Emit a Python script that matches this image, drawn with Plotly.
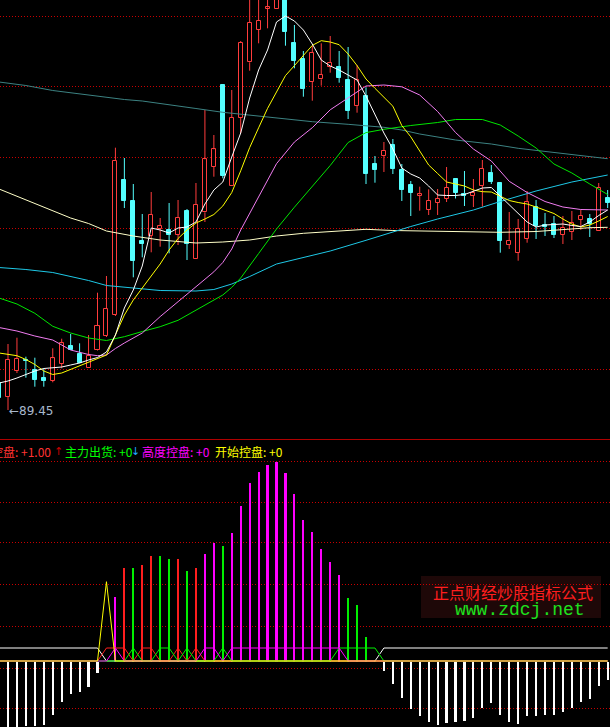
import plotly.graph_objects as go

# ---------------- data ----------------
K = list(range(-1, 68))

OPEN = [92.15, 90.78, 93.38, 94.45, 93.45, 92.62, 92.38, 94.05, 95.85, 95.05, 93.68, 95.45, 96.85,
        98.95, 112.45, 110.35, 106.38, 106.88, 107.55, 107.45, 106.95, 109.35, 104.55, 109.22, 113.78,
        121.95, 111.88, 118.68, 124.22, 127.48, 129.6, 129.52, 131.45, 126.15, 124.55, 122.28, 122.52,
        123.75, 123.75, 122.45, 119.88, 120.88, 114.05, 114.88, 115.95, 113.45, 111.95, 110.9, 109.45,
        110.15, 110.58, 112.55, 111.05, 110.85, 111.88, 113.15, 112.15, 105.95, 105.18, 106.58, 109.78,
        107.95, 108.05, 106.95, 107.28, 108.48, 108.55, 107.35, 110.65]
HIGH = [92.35, 96.05, 96.68, 94.78, 94.68, 93.62, 95.62, 96.58, 97.05, 96.12, 96.95, 101.18, 102.85,
        115.68, 114.65, 112.05, 109.05, 111.25, 108.65, 110.15, 110.45, 109.55, 112.15, 119.45, 116.95,
        121.95, 121.45, 126.35, 130.95, 131.25, 131.45, 132.45, 131.95, 127.95, 125.35, 125.85, 126.12,
        126.85, 125.35, 125.75, 123.95, 121.72, 114.85, 116.25, 116.55, 114.05, 112.35, 111.78, 111.52,
        111.55, 113.75, 112.65, 113.35, 112.55, 114.45, 113.95, 112.15, 109.25, 108.55, 111.35, 110.45,
        109.15, 108.85, 108.85, 109.35, 109.45, 109.05, 112.15, 111.45]
LOW = [90.45, 89.45, 93.15, 92.68, 91.78, 91.78, 92.22, 93.62, 95.45, 94.12, 93.65, 95.4, 96.75,
       98.85, 109.65, 102.72, 104.72, 105.22, 105.78, 105.12, 105.95, 104.45, 104.55, 108.25, 112.78,
       112.62, 111.85, 117.12, 123.38, 126.12, 127.62, 129.52, 125.88, 123.62, 120.78, 120.38, 121.88,
       123.18, 122.18, 118.55, 119.18, 112.05, 112.18, 113.25, 113.05, 110.35, 108.85, 109.38, 108.95,
       108.95, 110.25, 110.6, 109.85, 109.75, 109.78, 112.05, 105.18, 105.55, 104.38, 106.18, 106.55,
       106.85, 106.65, 106.05, 106.45, 107.45, 106.75, 107.35, 109.65]
CLOSE = [90.65, 94.45, 94.55, 94.35, 92.45, 92.38, 94.62, 96.12, 95.45, 94.18, 94.85, 97.85, 99.55,
         114.35, 110.38, 104.38, 106.05, 108.95, 107.85, 106.95, 108.65, 106.05, 109.95, 114.52, 115.52,
         112.85, 118.65, 126.15, 128.15, 128.35, 129.7, 131.95, 127.28, 124.35, 121.55, 125.15, 122.95,
         124.15, 122.65, 119.35, 122.45, 113.05, 113.45, 115.35, 113.55, 111.45, 111.18, 111.0, 110.35,
         110.55, 111.65, 111.18, 110.9, 111.15, 113.55, 112.25, 106.35, 106.35, 107.55, 110.22, 107.85,
         107.75, 106.95, 107.65, 108.15, 108.85, 108.08, 111.65, 110.15]

MA5 = [92.15, 92.35, 92.65, 93.0, 93.35, 93.6, 93.7, 93.75, 93.95, 94.15, 94.45, 94.7, 95.25, 96.95,
       99.65, 101.45, 103.85, 107.65, 107.45, 107.15, 107.65, 107.75, 108.25, 110.05, 111.45, 112.25,
       114.75, 117.15, 120.65, 123.45, 125.45, 128.25, 128.85, 128.35, 127.45, 126.05, 124.45, 123.85,
       123.45, 122.95, 122.45, 120.85, 118.95, 117.15, 115.55, 113.65, 113.05, 112.65, 111.85, 110.95,
       110.9, 110.9, 111.0, 111.35, 111.65, 111.7, 110.85, 109.95, 109.15, 108.25, 107.75, 107.95,
       108.0, 108.05, 107.9, 107.8, 108.25, 108.9, 109.45]
MA10 = [95.15, 95.0, 94.88, 94.5, 94.0, 93.35, 93.0, 93.15, 93.52, 93.88, 94.25, 94.6, 94.95, 96.95,
        98.95, 100.45, 101.65, 102.85, 104.05, 105.45, 106.6, 107.45, 108.15, 108.55, 109.0, 109.85,
        111.2, 113.37, 115.69, 117.67, 119.61, 121.25, 122.89, 123.89, 124.87, 125.91, 126.38, 126.25,
        125.98, 125.05, 123.89, 122.55, 121.62, 120.73, 119.83, 117.89, 116.77, 115.35, 113.95, 113.1,
        112.25, 112.05, 111.85, 111.45, 111.28, 111.25, 110.85, 110.4, 110.2, 110.05, 109.75, 109.45,
        109.1, 108.55, 108.05, 107.75, 107.95, 108.35, 108.8]
MA20_K = [-1, 1, 3, 5, 7, 9, 10, 11, 12, 13, 15, 17, 19, 21, 23, 24, 25, 26, 28, 30, 32, 34, 36, 38,
          40, 42, 44, 46, 48, 50, 52, 54, 56, 58, 60, 62, 64, 67]
MA20 = [97.7, 97.35, 96.85, 96.45, 95.45, 95.0, 94.88, 94.95, 95.6, 96.15, 97.15, 98.79, 100.28,
        101.78, 103.27, 104.2, 105.55, 107.45, 110.83, 114.08, 116.25, 117.68, 119.47, 120.67, 121.85,
        121.95, 121.77, 120.95, 119.3, 117.2, 115.55, 114.35, 112.32, 111.2, 110.3, 109.75, 109.5, 109.45]
MA30_K = [-1, 1, 3, 5, 7, 9, 11, 13, 15, 17, 19, 21, 23, 24, 25, 26, 28, 30, 32, 34, 36, 38, 40, 42,
          45, 48, 50, 53, 55, 57, 59, 61, 63, 65, 67]
MA30 = [100.65, 100.05, 99.12, 97.82, 97.15, 96.65, 96.4, 96.78, 97.3, 97.78, 98.42, 99.45, 100.45,
        100.95, 101.71, 102.65, 105.1, 107.55, 109.73, 111.79, 113.9, 116.2, 117.19, 117.52, 117.9,
        118.2, 118.5, 118.5, 117.95, 116.85, 115.65, 114.05, 113.15, 112.05, 111.0]
MA60_K = [-1, 2, 5, 7, 9, 11, 14, 17, 21, 23, 25, 27, 30, 33, 36, 40, 42, 45, 48, 52, 55, 59, 63, 67]
MA60 = [103.7, 103.5, 103.2, 102.8, 102.4, 101.9, 101.62, 101.4, 101.35, 101.5, 102.05, 102.8, 104.05,
        104.7, 105.35, 106.42, 107.0, 107.8, 108.55, 109.45, 110.3, 111.35, 112.25, 112.95]
MA120_K = [-1, 2, 5, 7, 9, 11, 14, 17, 21, 24, 27, 30, 33, 37, 40, 43, 47, 50, 55, 59, 61, 65, 67]
MA120 = [111.55, 110.45, 109.35, 108.65, 108.1, 107.35, 106.85, 106.45, 106.15, 106.25, 106.45, 106.85,
         107.12, 107.35, 107.52, 107.4, 107.35, 107.25, 107.22, 107.3, 107.45, 107.68, 107.72]
MA250_K = [-1, 2, 5, 10, 13, 15, 17, 19, 21, 24, 27, 30, 34, 38, 42, 44, 46, 50, 54, 57, 61, 64, 67]
MA250 = [122.25, 121.9, 121.4, 120.8, 120.5, 120.35, 120.12, 119.88, 119.6, 119.22, 118.92, 118.65,
         118.28, 118.02, 117.72, 117.45, 117.05, 116.45, 116.05, 115.62, 115.2, 114.85, 114.58]

TOP_GRID = [128.85, 121.85, 114.75, 107.65, 100.65, 93.55]

# indicator panel
WHITE_LINE = [1, 1, 1, 1, 1, 1, 1, 1, 1, 1, 1, 1,
              0, 0, 0, 0, 0, 0, 0, 0, 0, 0, 0, 0, 0, 0, 0, 0, 0, 0, 0, 0, 0, 0, 0, 0, 0, 0, 0, 0, 0, 0, 0,
              1, 1, 1, 1, 1, 1, 1, 1, 1, 1, 1, 1, 1, 1, 1, 1, 1, 1, 1, 1, 1, 1, 1, 1, 1, 1]
YELLOW_LINE = [0, 0, 0, 0, 0, 0, 0, 0, 0, 0, 0, 0, 6.1, 0, 0, 0, 0, 0, 0, 0, 0, 0, 0, 0, 0, 0, 0, 0, 0,
               0, 0, 0, 0, 0, 0, 0, 0, 0, 0, 0, 0, 0, 0, 0, 0, 0, 0, 0, 0, 0, 0, 0, 0, 0, 0, 0, 0, 0, 0,
               0, 0, 0, 0, 0, 0, 0, 0, 0, 0]
RED_LINE = [0, 0, 0, 0, 0, 0, 0, 0, 0, 0, 0, 0, 1, 1, 1, 0, 1, 1, 0, 0, 1, 0, 1, 0, 0, 0, 0, 0, 0,
            0, 0, 0, 0, 0, 0, 0, 0, 0, 0, 0, 0, 0, 0, 0, 0, 0, 0, 0, 0, 0, 0, 0, 0, 0, 0, 0, 0, 0, 0,
            0, 0, 0, 0, 0, 0, 0, 0, 0, 0]
GREEN_LINE = [0, 0, 0, 0, 0, 0, 0, 0, 0, 0, 0, 0, 0, 0, 0, 1, 0, 0, 1, 1, 0, 1, 0, 0, 0, 1, 0, 0, 0,
              0, 0, 0, 0, 0, 0, 0, 0, 0, 1, 1, 1, 1, 1, 0, 0, 0, 0, 0, 0, 0, 0, 0, 0, 0, 0, 0, 0, 0, 0,
              0, 0, 0, 0, 0, 0, 0, 0, 0, 0]
MAGENTA_LINE = [0, 0, 0, 0, 0, 0, 0, 0, 0, 0, 0, 0, 0, 1, 0, 0, 0, 0, 0, 0, 0, 0, 0, 1, 1, 0, 1, 1, 1,
                1, 1, 1, 1, 1, 1, 1, 1, 1, 1, 0, 0, 0, 0, 0, 0, 0, 0, 0, 0, 0, 0, 0, 0, 0, 0, 0, 0, 0, 0,
                0, 0, 0, 0, 0, 0, 0, 0, 0, 0]

RED_BAR_K = [13, 15, 16, 19, 21]
RED_BAR = [7.23, 7.46, 8.15, 7.85, 7.23]
GREEN_BAR_K = [14, 17, 18, 20, 24, 38, 39, 40, 41]
GREEN_BAR = [7.23, 8.15, 7.85, 7.0, 8.85, 4.92, 4.31, 1.85, 0.15]
MAGENTA_BAR_K = [12, 22, 23, 25, 26, 27, 28, 29, 30, 31, 32, 33, 34, 35, 36, 37]
MAGENTA_BAR = [5.0, 8.3, 9.08, 9.85, 12.0, 13.7, 14.6, 15.15, 15.38, 14.54, 12.92, 10.92, 10.0, 8.62,
               7.69, 6.62]
WHITE_BAR_K = [-1, 0, 1, 2, 3, 4, 5, 6, 7, 8, 9, 10,
               42, 43, 44, 45, 46, 47, 48, 49, 50, 51, 52, 53, 54, 55, 56, 57, 58, 59, 60, 61, 62, 63,
               64, 65, 66, 67]
WHITE_BAR = [-5.8, -5.6, -5.3, -4.98, -4.98, -4.9, -4.13, -3.13, -2.52, -2.36, -1.98, -0.9,
             -0.75, -1.75, -2.82, -3.67, -4.21, -4.67, -4.9, -4.75, -4.67, -4.59, -4.36, -3.59, -3.21,
             -4.13, -4.67, -4.82, -4.21, -4.21, -4.13, -4.13, -3.9, -3.59, -3.13, -2.9, -1.9, -1.44]
BOTTOM_GRID = [15.38, 12.23, 9.08, 5.85, 2.69, -0.54, -3.69]

# ---------------- styles ----------------
RED = '#ff3c3c'
CYAN = '#54ffff'
W, H = 610, 727
SPLIT = 1 - 439.5 / H

fig = go.Figure()

# wicks (upper & lower separately so hollow bodies stay empty)
def wicks(up):
    xs, ys = [], []
    for k, o, h, l, c in zip(K, OPEN, HIGH, LOW, CLOSE):
        if (c >= o) == up:
            top, bot = max(o, c), min(o, c)
            xs += [k, k, None, k, k, None]
            ys += [h, top, None, bot, l, None]
    return xs, ys

for up, col in [(True, RED), (False, CYAN)]:
    xs, ys = wicks(up)
    fig.add_trace(go.Scatter(x=xs, y=ys, mode='lines', line=dict(color=col, width=1),
                             hoverinfo='skip', showlegend=False, xaxis='x', yaxis='y'))

for up, fill, col in [(True, 'black', RED), (False, CYAN, CYAN)]:
    bx, bb, bh = [], [], []
    for k, o, c in zip(K, OPEN, CLOSE):
        if (c >= o) == up:
            bx.append(k)
            bb.append(min(o, c))
            bh.append(max(abs(c - o), 0.12))
    fig.add_trace(go.Bar(x=bx, y=bh, base=bb, width=0.45,
                         marker=dict(color=fill, line=dict(color=col, width=1)),
                         hoverinfo='skip', showlegend=False, xaxis='x', yaxis='y'))

ma_specs = [
    (MA250_K, MA250, '#3c8282'),
    (MA120_K, MA120, '#ffffc8'),
    (MA60_K, MA60, '#1ec8e6'),
    (MA30_K, MA30, '#00e600'),
    (MA20_K, MA20, '#f07cf0'),
    (K, MA10, '#ffff00'),
    (K, MA5, '#ffffff'),
]
for xk, yv, col in ma_specs:
    fig.add_trace(go.Scatter(x=xk, y=yv, mode='lines', line=dict(color=col, width=1),
                             hoverinfo='skip', showlegend=False, xaxis='x', yaxis='y'))

# indicator panel bars
for xk, yv, col in [(WHITE_BAR_K, WHITE_BAR, '#ffffff'), (RED_BAR_K, RED_BAR, '#ff1e1e'),
                    (GREEN_BAR_K, GREEN_BAR, '#00f000'), (MAGENTA_BAR_K, MAGENTA_BAR, '#ff00ff')]:
    fig.add_trace(go.Bar(x=xk, y=yv, width=0.24, marker=dict(color=col, line=dict(width=0)),
                         hoverinfo='skip', showlegend=False, xaxis='x2', yaxis='y2'))

for yv, col in [(WHITE_LINE, '#ffffff'), (RED_LINE, '#ff1e1e'), (GREEN_LINE, '#00f000'),
                (MAGENTA_LINE, '#ff00ff'), (YELLOW_LINE, '#ffff00')]:
    fig.add_trace(go.Scatter(x=K, y=yv, mode='lines', line=dict(color=col, width=1),
                             hoverinfo='skip', showlegend=False, xaxis='x2', yaxis='y2'))

XR = [-0.894, 67.26]
grid = dict(showgrid=True, gridcolor='#c80000', griddash='1px,2px', gridwidth=1,
            showticklabels=False, zeroline=False, showline=False, ticks='')

CJK = 'Noto Sans CJK SC, DejaVu Sans, sans-serif'

def px(x):
    return x / W

def py(y):
    return 1 - y / H

ann = []
legend_items = [
    ('主力控盘: +1.00', '#ff3232', 52.5, 'right', CJK, 12),
    ('↑', '#c80000', 52.0, 'left', 'DejaVu Sans', 11),
    ('主力出货: +0', '#00ff00', 62.5, 'left', CJK, 12),
    ('↓', '#20a8ff', 129.0, 'left', 'DejaVu Sans', 11),
    ('高度控盘: +0', '#ff00ff', 140.0, 'left', CJK, 12),
    ('开始控盘: +0', '#ffff00', 212.5, 'left', CJK, 12),
]
for txt, col, xpos, anchor, fam, size in legend_items:
    ann.append(dict(text=txt, x=px(xpos), y=py(451), xref='paper', yref='paper',
                    xanchor=anchor, yanchor='middle', showarrow=False,
                    font=dict(family=fam, size=size, color=col)))

ann.append(dict(text='←89.45', x=0, y=LOW[1], xref='x', yref='y', xanchor='left',
                yanchor='middle', showarrow=False, xshift=-1, yshift=-1,
                font=dict(family='DejaVu Sans, sans-serif', size=12, color='#a8b8cc')))

ann.append(dict(text='正点财经炒股指标公式', x=px(513), y=py(591.5), xref='paper', yref='paper',
                xanchor='center', yanchor='middle', showarrow=False,
                font=dict(family=CJK, size=16, color='#ff1e1e')))
ann.append(dict(text='www.zdcj.net', x=px(520), y=py(609.5), xref='paper', yref='paper',
                xanchor='center', yanchor='middle', showarrow=False,
                font=dict(family='Liberation Mono, DejaVu Sans Mono, monospace', size=18,
                          color='#1ee01e')))

shapes = [
    dict(type='line', xref='paper', yref='paper', x0=0, x1=1, y0=SPLIT, y1=SPLIT,
         line=dict(color='#b00000', width=1)),
    dict(type='rect', xref='paper', yref='paper', x0=px(421), x1=px(601), y0=py(618), y1=py(576),
         fillcolor='#1e0808', line=dict(width=0), layer='below'),
]

fig.update_layout(
    width=W, height=H, autosize=False,
    margin=dict(l=0, r=0, t=0, b=0),
    paper_bgcolor='black', plot_bgcolor='black',
    barmode='overlay', bargap=0,
    showlegend=False,
    xaxis=dict(domain=[0, 1], range=XR, visible=False, anchor='y'),
    xaxis2=dict(domain=[0, 1], range=XR, visible=False, anchor='y2', matches='x'),
    yaxis=dict(domain=[SPLIT, 1], range=[86.5, 130.45], tickvals=TOP_GRID, **grid),
    yaxis2=dict(domain=[0, SPLIT], range=[-5.077, 17.04], tickvals=BOTTOM_GRID, **grid),
    annotations=ann, shapes=shapes,
)

fig.write_html('out.html', config={'displayModeBar': False})

# remove the browser's default page margin so the figure sits at the window origin
with open('out.html', encoding='utf-8') as f:
    page = f.read()
page = page.replace('<head>', '<head><style>html,body{margin:0;padding:0;background:#000;overflow:hidden}</style>', 1)
with open('out.html', 'w', encoding='utf-8') as f:
    f.write(page)
